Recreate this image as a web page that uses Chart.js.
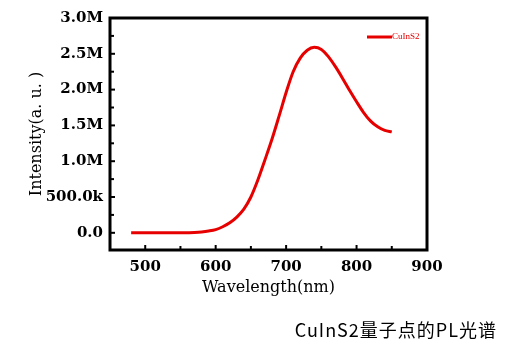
<!DOCTYPE html>
<html>
<head>
<meta charset="utf-8">
<script src="https://cdn.jsdelivr.net/npm/chart.js@4/dist/chart.umd.min.js"></script>
<style>
    body { margin: 0; background: #fff; }
    #wrap { position: relative; width: 520px; height: 346px; }
    #caption {
        position: absolute; right: 23px; top: 316px;
        font-family: "Noto Sans CJK SC", sans-serif; font-size: 18px;
        letter-spacing: 1px; color: #000; white-space: nowrap;
    }
</style>
</head>
<body>
<div id="wrap">
    <canvas id="pl-chart" width="520" height="346"></canvas>
    <div id="caption">CuInS2量子点的PL光谱</div>
</div>
<script>
const wavelengths = [480, 490, 500, 510, 520, 530, 540, 550, 560, 570,
    580, 590, 600, 610, 620, 630, 640, 650, 660, 670,
    680, 690, 700, 710, 720, 730, 740, 750, 760, 770,
    780, 790, 800, 810, 820, 830, 840, 850];
const intensity = [0, 0, 0, 0, 0, 0, 0, 0, 2000, 5000,
    12000, 25000, 45000, 85000, 140000, 220000, 330000, 500000, 740000, 1020000,
    1310000, 1630000, 1960000, 2250000, 2440000, 2550000, 2590000, 2560000, 2460000, 2320000,
    2160000, 1990000, 1830000, 1680000, 1560000, 1480000, 1430000, 1410000];

const seriesName = 'CuInS2';
const xTicks = [500, 600, 700, 800, 900];
const xMinorTicks = [550, 650, 750, 850];
const yTicks = [0, 500000, 1000000, 1500000, 2000000, 2500000, 3000000];
const yTickLabels = ['0.0', '500.0k', '1.0M', '1.5M', '2.0M', '2.5M', '3.0M'];
const yMinorTicks = [250000, 750000, 1250000, 1750000, 2250000, 2750000];

const canvas = document.getElementById('pl-chart');

// frame + inward ticks
const framePlugin = {
    id: 'frame',
    afterDraw(chart) {
        const {ctx, chartArea: a, scales: {x, y}} = chart;
        ctx.save();
        ctx.strokeStyle = '#000';
        ctx.lineWidth = 2;
        xTicks.concat(xMinorTicks).forEach(v => {
            const px = x.getPixelForValue(v);
            const len = xTicks.includes(v) ? 5 : 4;
            ctx.beginPath();
            ctx.moveTo(px, a.bottom);
            ctx.lineTo(px, a.bottom - len);
            ctx.stroke();
        });
        yTicks.concat(yMinorTicks).forEach(v => {
            const py = y.getPixelForValue(v);
            const len = yTicks.includes(v) ? 5 : 4;
            ctx.beginPath();
            ctx.moveTo(a.left, py);
            ctx.lineTo(a.left + len, py);
            ctx.stroke();
        });
        ctx.lineWidth = 3;
        ctx.strokeRect(a.left, a.top, a.right - a.left, a.bottom - a.top);
        ctx.restore();
    }
};

// small legend in the top right corner
const legendPlugin = {
    id: 'cornerLegend',
    afterDraw(chart) {
        const {ctx, chartArea: a} = chart;
        const ds = chart.data.datasets[0];
        ctx.save();
        ctx.strokeStyle = ds.borderColor;
        ctx.lineWidth = 3;
        ctx.beginPath();
        ctx.moveTo(a.right - 60, a.top + 19);
        ctx.lineTo(a.right - 35, a.top + 19);
        ctx.stroke();
        ctx.fillStyle = ds.borderColor;
        ctx.font = '9px "Liberation Serif"';
        ctx.textBaseline = 'middle';
        ctx.fillText(ds.label, a.right - 35, a.top + 19);
        ctx.restore();
    }
};

new Chart(canvas, {
    type: 'line',
    data: {
        datasets: [{
            label: seriesName,
            data: wavelengths.map((w, i) => ({x: w, y: intensity[i]})),
            borderColor: '#e60000',
            borderWidth: 3,
            pointRadius: 0,
            cubicInterpolationMode: 'monotone',
            fill: false
        }]
    },
    options: {
        responsive: false,
        animation: false,
        layout: {padding: {left: 0, top: 18, right: 93, bottom: 46}},
        plugins: {
            legend: {display: false},
            tooltip: {enabled: false}
        },
        scales: {
            x: {
                type: 'linear',
                min: 450,
                max: 900,
                afterBuildTicks: axis => { axis.ticks = xTicks.map(v => ({value: v})); },
                afterFit: axis => { axis.height = 50; },
                grid: {display: false, drawTicks: false},
                border: {display: false},
                ticks: {
                    color: '#000',
                    padding: 8,
                    maxRotation: 0,
                    font: {family: '"DejaVu Serif"', size: 15, weight: 'bold'}
                },
                title: {
                    display: true,
                    text: 'Wavelength(nm)',
                    color: '#000',
                    padding: {top: 0, bottom: 3},
                    font: {family: '"DejaVu Serif"', size: 16}
                }
            },
            y: {
                min: -240000,
                max: 3000000,
                afterBuildTicks: axis => { axis.ticks = yTicks.map(v => ({value: v})); },
                afterFit: axis => { axis.width = 110; },
                grid: {display: false, drawTicks: false},
                border: {display: false},
                ticks: {
                    color: '#000',
                    padding: 7,
                    font: {family: '"DejaVu Serif"', size: 15, weight: 'bold'},
                    callback: v => yTickLabels[yTicks.indexOf(v)]
                },
                title: {
                    display: true,
                    text: 'Intensity(a. u. )',
                    color: '#000',
                    padding: {top: 27, bottom: 0},
                    font: {family: '"DejaVu Serif"', size: 16}
                }
            }
        }
    },
    plugins: [framePlugin, legendPlugin]
});
</script>
</body>
</html>
